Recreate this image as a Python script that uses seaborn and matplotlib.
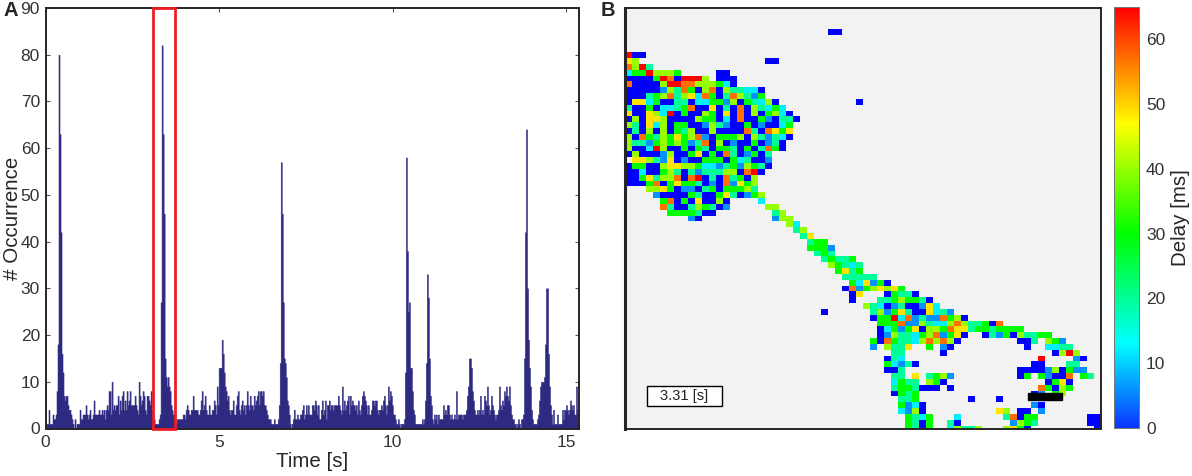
#spike histogram and delay map, panels A and B

import numpy as np
import matplotlib
matplotlib.use("Agg")
import matplotlib.pyplot as plt
from matplotlib.colors import LinearSegmentedColormap
from matplotlib.patches import Rectangle
import seaborn as sns

sns.set_style("ticks")
plt.rcParams['font.family'] = ['Liberation Sans', 'DejaVu Sans']
_fontsize = 12.5
_labelsize = 14.8
_tickcolor = "#333333"

# counts per time bin (bin is about 0.029 s)
counts_a = [1,1,1,4,1,1,1,3,2,2,3,8,18,80,63,42,16,12,7,6,7,7,5,4,4,3,2,1,0,2,0,1,1,1,4,2,2,3,3,3,5,3,2,3,4,2,2,3,6,3,
            3,3,3,4,3,3,4,3,4,2,4,5,4,8,8,3,10,4,5,4,5,5,7,3,6,4,7,8,4,6,4,8,5,6,8,5,5,5,5,7,5,4,3,10,7,5,6,8,7,4,
            3,7,7,6,5,8,4,3,2,1,1,1,1,2,3,27,82,63,46,15,11,9,11,9,8,5,4,3,3,1,1,2,2,2]
counts_b = [2,2,2,3,3,2,4,5,4,3,3,4,4,7,4,4,4,4,3,3,4,6,8,4,5,7,4,3,3,5,3,3,4,4,6,5,3,9,5,13,13,13,19,16,12,9,8,6,7,4,
            3,4,4,6,3,3,5,7,8,4,3,5,6,4,5,3,5,8,5,4,7,5,5,4,7,5,6,7,8,5,8,8,7,8,5,5,4,3,2,2,2,1,1,1,2,1,1,1,2,5,
            14,57,46,27,15,14,11,6,5,3,1,0,1,2,4,2,2,3,2,2,3,3,4,5,2,3,5,3,5,3,3]
counts_c = [3,5,5,4,6,5,3,5,2,2,4,6,3,4,6,2,5,5,6,4,5,5,4,5,5,5,5,7,5,4,3,9,4,6,4,5,6,7,3,7,5,6,5,5,4,5,3,6,4,3,
            5,7,8,7,6,5,3,5,3,3,4,6,6,5,6,6,4,3,4,4,5,4,6,7,5,3,5,9,6,8,7,5,3,3,2,1,1,2,1,0,1,1,1,2,12,58,38,25,27,13,
            13,8,4,3,1,1,1,1,1,1,1,2,1,2,6,14,33,28,15,7,5,2,1,3,2,3,1,3,2,2,2,2,5,3,4]
counts_d = [3,5,5,3,2,3,2,2,3,2,8,2,3,3,3,3,2,3,3,3,4,7,9,15,15,13,8,6,4,3,3,4,3,4,7,3,4,3,7,6,5,9,5,3,4,7,5,4,3,2,
            3,3,4,9,5,4,6,5,8,7,9,7,6,9,5,3,2,2,1,1,0,1,2,1,0,2,2,3,15,42,64,30,19,13,9,4,2,1,1,1,1,2,3,6,9,10,10,10,11,18,
            30,30,16,9,5,3,1,4,1,1,1,3,1,1,1,1,4,2,4,4,5,4,3,4,6,5,4,5,3,3,9,4,5]
x_ticks = [0, 5, 10, 15]
y_ticks = [0, 10, 20, 30, 40, 50, 60, 70, 80, 90]
t_max = 15.37
window = [3.1, 3.72]

# delay map, one code per cell, "column:codes" per row, first row is -8
codes = {"b": -1, "a": 6, "c": 12, "t": 20, "g": 30, "l": 40, "y": 49, "o": 57, "r": 65}
delay_rows = ["", "", "", "", "29:bb", "", "", "",
    "0:rbb", "0:yl 20:bb", "0:olrt", "0:cggrlllg 13:bb", "0:bbbbgrobrrrl 13:bbb",
    "0:obbbblrroolllgcb", "0:bbbbbaltogbloblttccb", "0:bbbtglotlycogbtoltag",
    "0:byycgbbttbccggalbgtclb 33:b", "0:tbbgbcctgobbybtbobltcgc", "0:ybbylcrbgbblgbyboblbglcb",
    "0:blbyylbbbblggbcbobbgabttb", "0:ltbyclbggbbaltabbgbabbcg", "0:btblblbgtlbblbbbbotboygy",
    "0:lbogtlgygloabggglbltatcb", "0:lttaglglgatoblbabbgbatb", "0:lbbcrlbbgbgtbggtbgbtogb",
    "0:blbbbalbbgybgbotbagbt", "1:yyltaybabbgggbgctbba", "0:bggbblyyllgccatgalgtb",
    "0:bbcbbgltbtatttllborb", "0:bbgytlloborbtbotgbl", "0:bbbgobgyggtbaboaygl",
    "3:llygbaabtgbggglt", "4:abbbbgtbbgytbagl", "5:gobgbybblb 19:c",
    "5:otbbtlgtba 20:ll", "6:ggggtbb 21:tl", "9:ab 21:all", "23:lc", "24:tl", "25:ty",
    "26:tgg", "26:ggga", "27:tgt", "28:tgttg", "29:lgtct", "30:gytg", "31:ttttt", "32:gcyagb",
    "31:boaglylyg", "32:by 37:bgttb", "32:b 36:ttglggtb", "34:ltcbatbbayc", "28:b 35:tlagytbbycta",
    "35:bggrcoataaoglb", "36:gggoaaltcclolttgbo", "36:bcgagybllgoyytggtgggg",
    "36:balttcgloagyb 51:btagblttgg", "35:gbogttclololb 56:bbt 60:lga",
    "35:a 37:ltty 43:g 45:ab 57:b 60:cctt", "38:tt 45:b 61:blrl", "37:btc 59:r 64:ab",
    "37:gcatb 58:bb 63:tt", "37:bbt 56:bbbbalbgaa", "38:tt 41:y 43:tgla 56:bg 59:gabbo 65:gt",
    "38:cgtt 43:lgb 60:bgyb", "38:tggt 42:bbb 46:b 59:ogblg", "38:bgtg 58:ba 61:gl",
    "39:ttg 49:b 53:b", "39:gacb 58:ab", "39:calb 53:yl 56:bb 59:a",
    "40:gtcg 47:c 54:tobgg 66:bb", "40:gtbg 46:tb 55:algt 66:bb", "40:gtbg 46:clttl 54:lygb 67:b"]
n_cols = 68
delay_ticks = [0, 10, 20, 30, 40, 50, 60]

counts = np.array(counts_a + counts_b + counts_c + counts_d)
edges = np.linspace(0, t_max, len(counts) + 1)
centers = (edges[:-1] + edges[1:]) / 2
print(len(counts), len(delay_rows))

delay = np.full((len(delay_rows), n_cols), np.nan)
for i, row in enumerate(delay_rows):
    for part in row.split():
        start, cells = part.split(":")
        for j, c in enumerate(cells):
            delay[i, int(start) + j] = codes[c]

jet = LinearSegmentedColormap.from_list("delay", [
    (0.0, "#0a36ff"), (13 / 65, "#00ffff"), (30 / 65, "#00ff00"),
    (47 / 65, "#ffff00"), (1.0, "#ff0000")], N=256)
jet.set_under("#0000ff")
jet.set_bad("#f2f2f2")

W, H = 1192.0, 476.0
fig = plt.figure(figsize=(W / 100, H / 100), dpi=100)
def box(x0, y0, x1, y1):
    return [x0 / W, 1 - y1 / H, (x1 - x0) / W, (y1 - y0) / H]
ax = fig.add_axes(box(45.5, 8, 579, 428.5))
ax2 = fig.add_axes(box(625, 8, 1101, 429))
cax = fig.add_axes(box(1114, 7, 1139, 428))

# panel A
sns.histplot(x=centers, weights=counts, bins=edges.tolist(), element="step", color="#2e2a82", alpha=1,
             linewidth=0.4, ax=ax)
ax.set_xlim(0, t_max)
ax.set_ylim(0, 90)
ax.set_xticks(x_ticks)
ax.set_yticks(y_ticks)
ax.tick_params(direction="in", length=3, width=0.8, top=True, right=True, color="#555555",
               labelsize=_fontsize, labelcolor=_tickcolor, pad=4)
ax.tick_params(axis="x", pad=5)
ax.set_xlabel("Time [s]", fontsize=_labelsize, labelpad=1)
ax.set_ylabel("# Occurrence", fontsize=_labelsize)
ax.yaxis.set_label_coords(-23 / 533.5, 0.5)
for s in ax.spines.values():
    s.set_linewidth(1.4)
ax.add_patch(Rectangle((window[0], 0), window[1] - window[0], 90, fill=False, edgecolor="#ee1c25",
                       linewidth=2, clip_on=False, zorder=5))

# panel B
sns.heatmap(delay, cmap=jet, vmin=0, vmax=65, ax=ax2, cbar_ax=cax, xticklabels=False, yticklabels=False,
            cbar_kws={"ticks": delay_ticks})
ax2.set_facecolor("#f2f2f2")
ax2.set_xlim(0, n_cols)
ax2.set_ylim(72.6, 0.4)
for s in ax2.spines.values():
    s.set_visible(True)
    s.set_linewidth(1.4)
ax2.spines["left"].set_linewidth(2.2)
ax2.add_patch(Rectangle((57.5, 66.5), 4.9, 1.1, color="black", zorder=4))
ax2.add_patch(Rectangle((22 / 476, 23 / 421), 75 / 476, 20 / 421, transform=ax2.transAxes,
                        facecolor="white", edgecolor="black", linewidth=1, zorder=4))
ax2.text(59 / 476, 33 / 421, "3.31 [s]", transform=ax2.transAxes, ha="center", va="center",
         fontsize=10.6, color="#222222", zorder=5)

cax.tick_params(direction="in", length=3, width=0.8, left=True, right=True, color="#555555",
                labelsize=_fontsize, labelcolor=_tickcolor, pad=5)
cax.set_ylabel("Delay [ms]", fontsize=_labelsize)
cax.yaxis.set_label_coords(2.26, 0.5)
for s in cax.spines.values():
    s.set_visible(True)
    s.set_linewidth(0.6)
    s.set_color("#777777")

fig.text(3 / W, 1 - 11 / H, "A", fontsize=14.5, fontweight="bold", va="center")
fig.text(601 / W, 1 - 11 / H, "B", fontsize=14.5, fontweight="bold", va="center")

plt.savefig("out.png", dpi=100)
